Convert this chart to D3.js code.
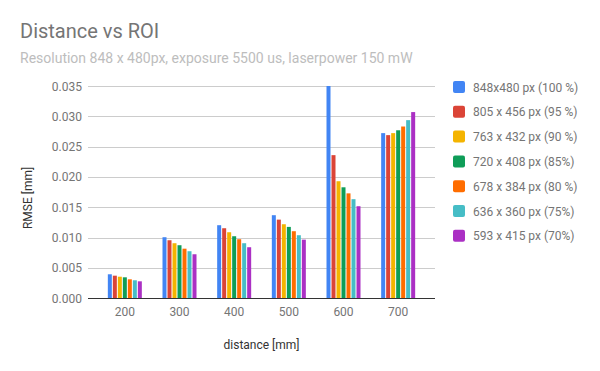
<!DOCTYPE html>
<html>
<head>
<meta charset="utf-8">
<script src="https://cdn.jsdelivr.net/npm/d3@7"></script>
<style>
	body { margin: 0; background: #fff; }
	svg { display: block; font-family: Roboto, Arial, sans-serif; }
</style>
</head>
<body>
<svg width="600" height="371"></svg>
<script>
// distances on the x axis
var distances = ['200', '300', '400', '500', '600', '700'];

// one name per series (legend)
var seriesNames = [
	'848x480 px (100 %)',
	'805 x 456 px (95 %)',
	'763 x 432 px (90 %)',
	'720 x 408 px (85%)',
	'678 x 384 px (80 %)',
	'636 x 360 px (75%)',
	'593 x 415 px (70%)'
];

// RMSE [mm] per series, one value per distance
var roi100 = [0.00396, 0.01007, 0.01205, 0.01370, 0.03650, 0.02723];
var roi95  = [0.00373, 0.00957, 0.01155, 0.01297, 0.02360, 0.02690];
var roi90  = [0.00356, 0.00908, 0.01089, 0.01221, 0.01930, 0.02723];
var roi85  = [0.00346, 0.00875, 0.01023, 0.01177, 0.01830, 0.02770];
var roi80  = [0.00313, 0.00818, 0.00974, 0.01106, 0.01730, 0.02832];
var roi75  = [0.00297, 0.00776, 0.00908, 0.01040, 0.01634, 0.02937];
var roi70  = [0.00280, 0.00726, 0.00842, 0.00967, 0.01518, 0.03070];

var yTicks = [0, 0.005, 0.01, 0.015, 0.02, 0.025, 0.03, 0.035];

var colors = ['#4285f4', '#db4437', '#f4b400', '#0f9d58', '#ff6d00', '#46bdc6', '#ab30c4'];

var series = [roi100, roi95, roi90, roi85, roi80, roi75, roi70];

var chart = {};

chart.make = function(){
	var svg = d3.select('svg');

	var y = d3.scaleLinear().domain([0, 0.035]).range([298.3, 86]);
	var x = d3.scaleBand().domain(distances).range([97.5, 425.5]);
	var inner = d3.scaleBand().domain(d3.range(series.length)).range([0, 34]).paddingInner(0.2);

	//title
	svg.append('text').attr('x', 20).attr('y', 38)
		.attr('font-size', 20).attr('fill', '#757575')
		.text('Distance vs ROI');
	svg.append('text').attr('x', 20).attr('y', 63)
		.attr('font-size', 14).attr('fill', '#bdbdbd')
		.text('Resolution 848 x 480px, exposure 5500 us, laserpower 150 mW');

	//grid
	svg.append('g').selectAll('line')
		.data(yTicks.slice(1))
		.enter().append('line')
		.attr('x1', 88).attr('x2', 435)
		.attr('y1', function(d){ return Math.round(y(d)) + 0.5; })
		.attr('y2', function(d){ return Math.round(y(d)) + 0.5; })
		.attr('stroke', '#cccccc');

	//y labels
	svg.append('g').selectAll('text')
		.data(yTicks)
		.enter().append('text')
		.attr('x', 82)
		.attr('y', function(d){ return y(d) + 4.5; })
		.attr('text-anchor', 'end')
		.attr('font-size', 12).attr('fill', '#757575')
		.text(d3.format('.3f'));

	//bars
	svg.append('clipPath').attr('id', 'plot')
		.append('rect').attr('x', 88).attr('y', y(0.035)).attr('width', 347).attr('height', y(0) - y(0.035));

	var bars = svg.append('g').attr('clip-path', 'url(#plot)');
	series.forEach(function(vals, s){
		bars.selectAll('rect.s' + s)
			.data(vals)
			.enter().append('rect')
			.attr('class', 's' + s)
			.attr('x', function(d, i){ return x(distances[i]) + x.bandwidth() / 2 - 17 + inner(s); })
			.attr('y', function(d){ return y(d); })
			.attr('width', inner.bandwidth())
			.attr('height', function(d){ return y(0) - y(d); })
			.attr('fill', colors[s]);
	});

	//baseline
	svg.append('line')
		.attr('x1', 88).attr('x2', 435)
		.attr('y1', 298.5).attr('y2', 298.5)
		.attr('stroke', '#333333');

	//x labels
	svg.append('g').selectAll('text')
		.data(distances)
		.enter().append('text')
		.attr('x', function(d){ return x(d) + x.bandwidth() / 2; })
		.attr('y', 316)
		.attr('text-anchor', 'middle')
		.attr('font-size', 12).attr('fill', '#757575')
		.text(function(d){ return d; });

	//axis titles
	svg.append('text').attr('x', 261.5).attr('y', 349)
		.attr('text-anchor', 'middle')
		.attr('font-size', 12).attr('fill', '#333333')
		.text('distance [mm]');
	svg.append('text')
		.attr('transform', 'translate(31.5,198) rotate(-90)')
		.attr('text-anchor', 'middle')
		.attr('font-size', 12).attr('fill', '#333333')
		.text('RMSE [mm]');

	//legend
	var legend = svg.append('g').selectAll('g')
		.data(seriesNames)
		.enter().append('g')
		.attr('transform', function(d, i){ return 'translate(453,' + (81 + i * 24.8) + ')'; });
	legend.append('rect')
		.attr('width', 12).attr('height', 12).attr('rx', 2)
		.attr('fill', function(d, i){ return colors[i]; });
	legend.append('text')
		.attr('x', 20).attr('y', 10.5)
		.attr('font-size', 12).attr('fill', '#757575')
		.text(function(d){ return d; });
};

chart.make();
</script>
</body>
</html>
